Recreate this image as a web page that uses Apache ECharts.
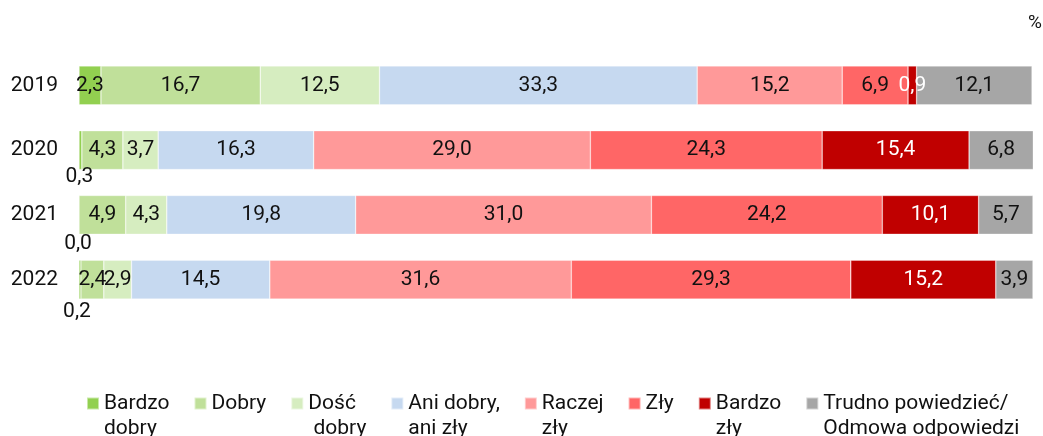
<!DOCTYPE html>
<html>
<head>
<meta charset="utf-8">
<script src="https://cdn.jsdelivr.net/npm/echarts@6/dist/echarts.min.js"></script>
<style>html,body{margin:0;padding:0;background:#fff}#c{width:1043px;height:436px}</style>
</head>
<body>
<div id="c"></div>
<script>
const years = ['2019', '2020', '2021', '2022'];
const seriesNames = ['Bardzo\ndobry', 'Dobry', 'Dość\n dobry', 'Ani dobry,\nani zły', 'Raczej\nzły', 'Zły', 'Bardzo\nzły', 'Trudno powiedzieć/\nOdmowa odpowiedzi'];
const bardzoDobry = [2.3, 0.3, 0.0, 0.2];
const dobry = [16.7, 4.3, 4.9, 2.4];
const doscDobry = [12.5, 3.7, 4.3, 2.9];
const aniDobry = [33.3, 16.3, 19.8, 14.5];
const raczejZly = [15.2, 29.0, 31.0, 31.6];
const zly = [6.9, 24.3, 24.2, 29.3];
const bardzoZly = [0.9, 15.4, 10.1, 15.2];
const trudno = [12.1, 6.8, 5.7, 3.9];

const values = [bardzoDobry, dobry, doscDobry, aniDobry, raczejZly, zly, bardzoZly, trudno];
const colors = ['#92D050', '#C0E09A', '#D6EDC0', '#C6D9F0', '#FF9999', '#FF6666', '#C00000', '#A6A6A6'];
const labelColors = ['#111', '#111', '#111', '#111', '#111', '#111', '#ffffff', '#111'];
const FONT = 'Roboto';
const FS = 21;

const fmt = v => (typeof v === 'object' ? v.value : v).toFixed(1).replace('.', ',');
// small-value labels drawn below the bar (style only)
const belowOffsets = { 1: [-1, -3], 2: [-1, -1], 3: [-3, 2] };

const series = seriesNames.map((name, i) => ({
  name: name,
  type: 'bar',
  stack: 'total',
  barCategoryGap: '40%',
  itemStyle: { color: colors[i], borderColor: 'rgba(255,255,255,0.5)', borderWidth: 0.6 },
  label: {
    show: true,
    position: 'inside',
    color: labelColors[i],
    fontFamily: FONT,
    fontSize: FS,
    formatter: p => fmt(p.value)
  },
  data: values[i].map((v, j) => {
    if (i === 0 && j > 0) {
      return { value: v, label: { position: 'bottom', distance: 0, offset: belowOffsets[j] } };
    }
    return v;
  })
}));

// legend icon: square at the top of a tall item box so it lines up with the first text line
const ICON = 'path://M0,0M0,6.5h12v12h-12zM12,50';

const chart = echarts.init(document.getElementById('c'), null, { renderer: 'canvas' });
chart.setOption({
  animation: false,
  backgroundColor: '#fff',
  title: {
    text: '%',
    right: 1,
    top: 14,
    padding: 0,
    textStyle: { fontFamily: FONT, fontSize: 19, fontWeight: 'normal', color: '#111' }
  },
  grid: { left: 79, right: 10, top: 53, height: 259 },
  xAxis: {
    type: 'value', min: 0, max: 100, show: false
  },
  yAxis: {
    type: 'category',
    data: years,
    inverse: true,
    axisLine: { show: false },
    axisTick: { show: false },
    axisLabel: { fontFamily: FONT, fontSize: FS, color: '#111', margin: 21 }
  },
  legend: {
    left: 81,
    top: 385,
    itemWidth: 12,
    itemHeight: 50,
    itemGap: 24,
    icon: ICON,
    data: seriesNames,
    formatter: n => (n.indexOf('\n') < 0 ? n + '\n\u00a0' : n),
    textStyle: {
      fontFamily: FONT, fontSize: FS, color: '#111', lineHeight: 25
    }
  },
  series: series
});
</script>
</body>
</html>
